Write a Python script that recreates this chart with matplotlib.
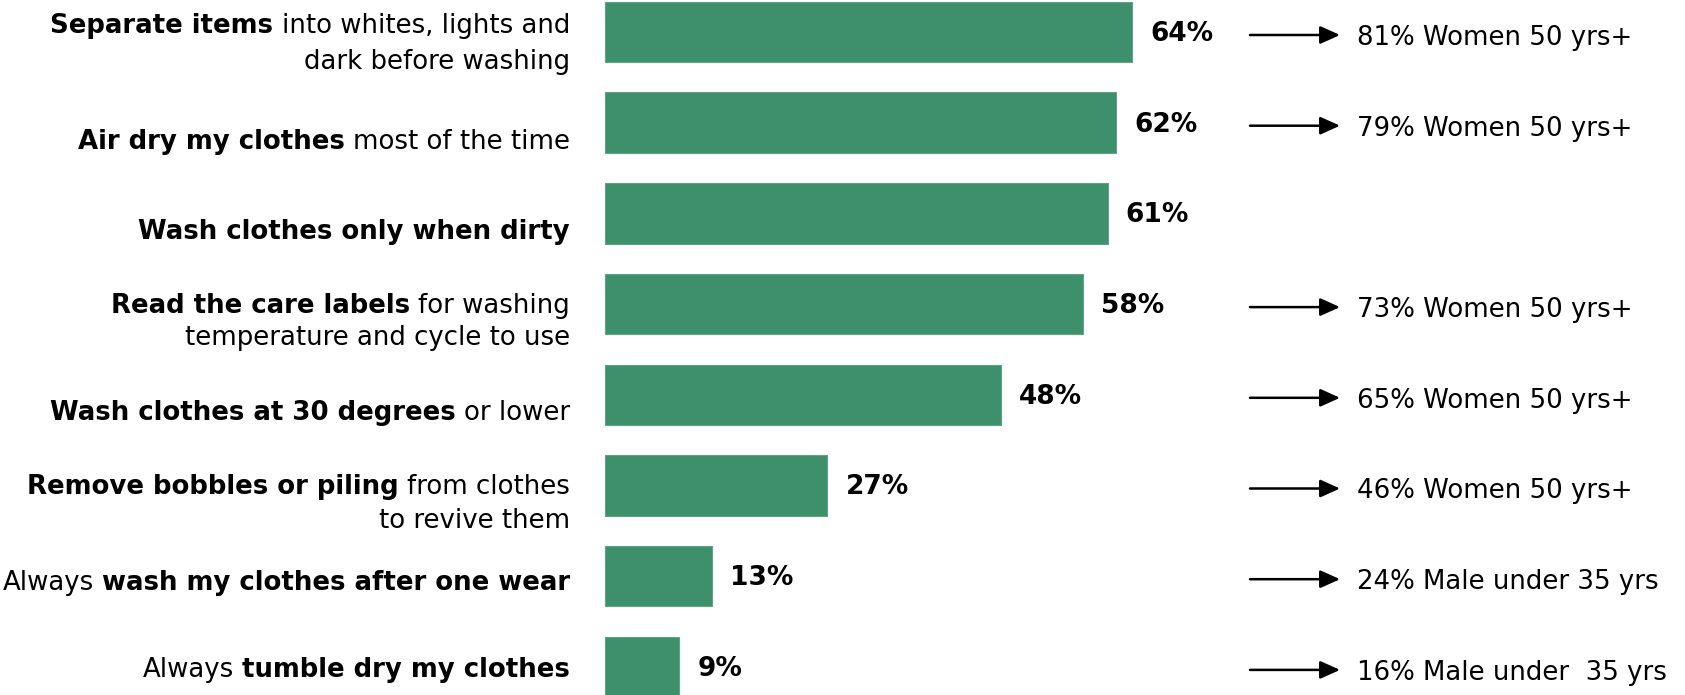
import matplotlib
matplotlib.use("Agg")
import matplotlib.pyplot as plt

# ---- data -------------------------------------------------------------
values = [64, 62, 61, 58, 48, 27, 13, 9]

# each label: list of lines, each line a list of (text, weight) runs
category_labels = [
    [[("Separate items", "bold"), ("into whites, lights and", "normal")],
     [("dark before washing", "normal")]],
    [[("Air dry my clothes", "bold"), ("most of the time", "normal")]],
    [[("Wash clothes only when dirty", "bold")]],
    [[("Read the care labels", "bold"), ("for washing", "normal")],
     [("temperature and cycle to use", "normal")]],
    [[("Wash clothes at 30 degrees", "bold"), ("or lower", "normal")]],
    [[("Remove bobbles or piling", "bold"), ("from clothes", "normal")],
     [("to revive them", "normal")]],
    [[("Always", "normal"), ("wash my clothes after one wear", "bold")]],
    [[("Always", "normal"), ("tumble dry my clothes", "bold")]],
]

subgroup_notes = [
    "81% Women 50 yrs+",
    "79% Women 50 yrs+",
    None,
    "73% Women 50 yrs+",
    "65% Women 50 yrs+",
    "46% Women 50 yrs+",
    "24% Male under 35 yrs",
    "16% Male under  35 yrs",
]

# ---- layout -----------------------------------------------------------
W, H, DPI = 1685, 695, 100
BAR_COLOR = "#3E8F6C"
FONT = "DejaVu Sans"
FS = 18.7

X0_PX = 605          # pixel column of the zero line
PX_PER_UNIT = 8.24   # pixels per percentage point
ROW0_PX = 32         # pixel row of the first bar centre
ROW_PX = 90.7        # pixel distance between bars
BAR_H = 0.667

# baseline offsets (px below bar centre) for each label line
label_baselines = [[1, 37], [26], [26], [9, 41], [25], [9, 42], [14], [10]]
LABEL_RIGHT_PX = 570

fig = plt.figure(figsize=(W / DPI, H / DPI), dpi=DPI)
ax = fig.add_axes([0, 0, 1, 1])
ax.set_xlim(-X0_PX / PX_PER_UNIT, (W - X0_PX) / PX_PER_UNIT)
ax.set_ylim((H - ROW0_PX) / ROW_PX, -ROW0_PX / ROW_PX)
ax.axis("off")


def px_to_x(px):
    return (px - X0_PX) / PX_PER_UNIT


def dy(px):
    return px / ROW_PX


rows = list(range(len(values)))
ax.barh(rows, values, height=BAR_H, color=BAR_COLOR, edgecolor="#5FA384",
        linewidth=0.8)

# value labels
for i, v in enumerate(values):
    ax.text(v + 18 / PX_PER_UNIT, i + dy(2), f"{v}%", ha="left", va="center",
            fontsize=19, fontweight="bold", family=FONT, color="black")

# category labels with mixed weights, right aligned
renderer = fig.canvas.get_renderer()


def width_px(s, weight):
    t = fig.text(0, 0, s, fontsize=FS, fontweight=weight, family=FONT)
    w = t.get_window_extent(renderer).width
    t.remove()
    return w


space_px = width_px("a a", "normal") - width_px("aa", "normal")

for i, lines in enumerate(category_labels):
    for line, off in zip(lines, label_baselines[i]):
        widths = [width_px(s, w) for s, w in line]
        total = sum(widths) + space_px * (len(line) - 1)
        x = LABEL_RIGHT_PX - total
        for (s, w), wd in zip(line, widths):
            ax.text(px_to_x(x), i + dy(off), s, ha="left", va="baseline",
                    fontsize=FS, fontweight=w, family=FONT, color="black")
            x += wd + space_px

# subgroup callouts with arrows
for i, note in enumerate(subgroup_notes):
    if note is None:
        continue
    y = i + dy(3)
    ax.annotate("", xy=(px_to_x(1340), y), xytext=(px_to_x(1250), y),
                arrowprops=dict(arrowstyle="-|>,head_length=0.6,head_width=0.27",
                                color="black", lw=1.8,
                                mutation_scale=20, shrinkA=0, shrinkB=0))
    ax.text(px_to_x(1357), i + dy(13), note, ha="left", va="baseline",
            fontsize=FS, family=FONT, color="black")

fig.savefig("out.png", dpi=DPI)
